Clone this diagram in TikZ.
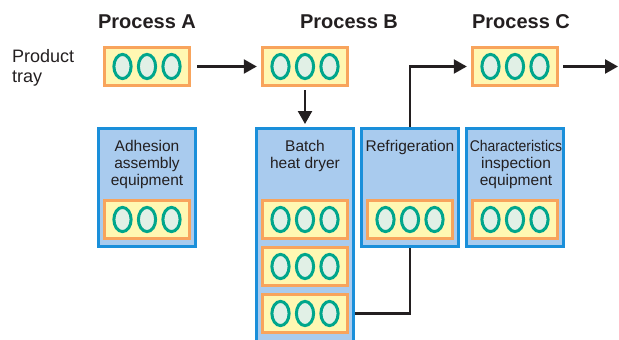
\documentclass[tikz,border=0pt]{standalone}
\usepackage{fontspec}
\setmainfont{Liberation Sans}
\usetikzlibrary{arrows.meta,backgrounds}

\definecolor{ink}{HTML}{231F20}
\definecolor{trayfill}{HTML}{FFF7B2}
\definecolor{trayedge}{HTML}{F8A45C}
\definecolor{cellfill}{HTML}{E1F0E6}
\definecolor{celledge}{HTML}{00A68C}
\definecolor{unitfill}{HTML}{A9CBEE}
\definecolor{unitedge}{HTML}{1A8FDA}

\begin{document}
\begin{tikzpicture}[x=1pt,y=-1pt,
  tray/.style={rectangle, draw=trayedge, fill=trayfill, line width=3.4pt,
    minimum width=85pt, minimum height=37.6pt, inner sep=0pt,
    path picture={
      \foreach \dx in {-24.5,0,24.5}{
        \draw[celledge, fill=cellfill, line width=3pt]
          ([xshift=\dx pt]path picture bounding box.center)
          ellipse [x radius=8.6pt, y radius=12.1pt];
      }}},
  unit/.style={rectangle, draw=unitedge, fill=unitfill, line width=2.6pt,
    minimum width=97.4pt, inner sep=0pt},
  unitlabel/.style={anchor=base, align=center, inner sep=0pt, text=ink,
    font=\fontsize{15.5}{17}\selectfont},
  heading/.style={anchor=base, inner sep=0pt, text=ink,
    font=\bfseries\fontsize{20}{24}\selectfont},
  flow/.style={draw=ink, line width=2.4pt, -{Triangle[length=13pt,width=14pt]}},
]
\clip (0,0) rectangle (619,340);

% process headings and row label (base = baseline of the last line)
\node[heading] (headA) at (147,28.3) {Process A};
\node[heading] (headB) at (349,28.3) {Process B};
\node[heading] (headC) at (521,28.3) {Process C};
\node[anchor=base west, align=left, inner sep=0pt, text=ink,
      font=\fontsize{18}{20}\selectfont] (traylabel) at (12,82.5) {Product\\tray};

% trays on the line
\node[tray] (trayA) at (147,66.5) {};
\node[tray] (trayB) at (305,66.5) {};
\node[tray] (trayC) at (515,66.5) {};

% equipment units
\node[unit, minimum height=118.4pt] (adh) at (147,187.5) {};
\node[unit, minimum height=220pt]   (dry) at (305,238.3) {};
\node[unit, minimum height=118.4pt] (ref) at (410,187.5) {};
\node[unit, minimum height=118.4pt] (chk) at (515,187.5) {};

\node[unitlabel] (adhlabel) at (147,185) {Adhesion\\assembly\\equipment};
\node[unitlabel] (drylabel) at (305,168) {Batch\\heat dryer};
\node[unitlabel] (reflabel) at (410,151) {Refrigeration};
\node[unitlabel] (chklabel) at (516,185) {\scalebox{0.9}[1]{Characteristics}\\inspection\\equipment};

% trays held in the units
\node[tray] (adhtray)  at (147,219.5) {};
\node[tray] (drytray1) at (305,219.5) {};
\node[tray] (drytray2) at (305,266.5) {};
\node[tray] (drytray3) at (305,313.5) {};
\node[tray] (reftray)  at (410,219.5) {};
\node[tray] (chktray)  at (515,219.5) {};

% flow of trays
\draw[flow, shorten <=6pt, shorten >=4pt] (trayA) -- (trayB);
\draw[flow, shorten <=3pt, shorten >=3pt] (trayB) -- (dry);
\coordinate (exit) at (618,66.5);
\draw[flow, shorten <=4pt] (trayC) -- (exit);
\begin{pgfonlayer}{background}
  \draw[flow, line width=2.2pt, shorten >=4pt]
    (drytray3.east) -| (ref.center) |- (trayC.west);
\end{pgfonlayer}
\end{tikzpicture}
\end{document}
